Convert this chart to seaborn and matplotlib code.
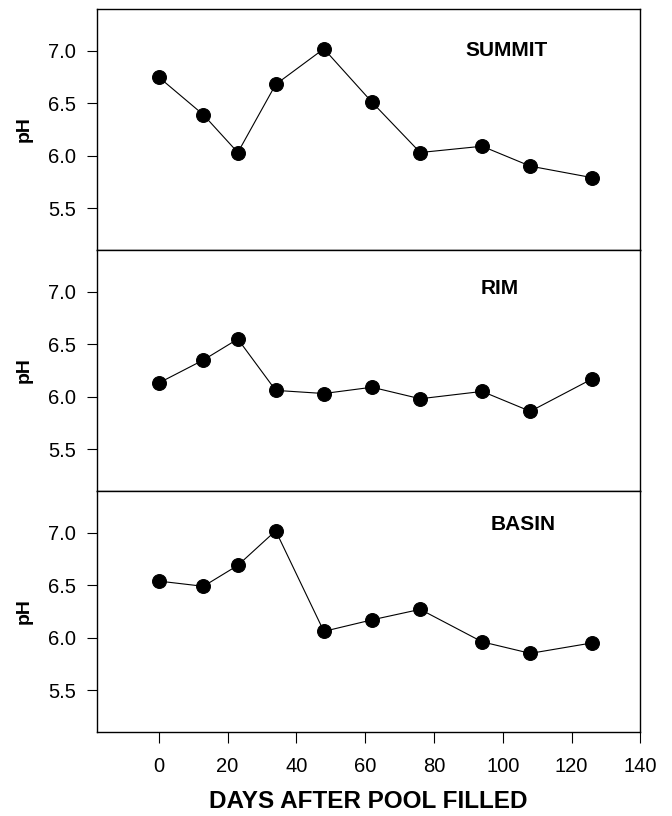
import matplotlib
matplotlib.use('Agg')
import matplotlib.pyplot as plt
import seaborn as sns
import pandas as pd

sns.set_style('ticks')
plt.rcParams['font.family'] = ['Liberation Sans', 'DejaVu Sans']
plt.rcParams['text.color'] = 'black'
plt.rcParams['axes.labelcolor'] = 'black'
plt.rcParams['xtick.color'] = 'black'
plt.rcParams['ytick.color'] = 'black'

# days after the pool was filled (shared by all three sites)
days = [0, 13, 23, 34, 48, 62, 76, 94, 108, 126]

summit_ph = [6.75, 6.39, 6.03, 6.68, 7.02, 6.51, 6.03, 6.09, 5.90, 5.79]
rim_ph = [6.13, 6.35, 6.55, 6.06, 6.03, 6.09, 5.98, 6.05, 5.86, 6.17]
basin_ph = [6.54, 6.49, 6.69, 7.02, 6.06, 6.17, 6.27, 5.96, 5.85, 5.95]

sites = ['SUMMIT', 'RIM', 'BASIN']
site_values = [summit_ph, rim_ph, basin_ph]
label_pos = [(101, 7.0), (99, 7.03), (106, 7.08)]

x_ticks = [0, 20, 40, 60, 80, 100, 120, 140]
y_ticks = [5.5, 6.0, 6.5, 7.0]


def main():
    fig, axes = plt.subplots(3, 1, figsize=(6.72, 8.16), dpi=100, sharex=True)
    fig.subplots_adjust(left=0.144, right=0.953, top=0.989, bottom=0.103,
                        hspace=0)

    for ax, site, vals, pos in zip(axes, sites, site_values, label_pos):
        df = pd.DataFrame({'day': days, 'ph': vals})
        sns.lineplot(data=df, x='day', y='ph', ax=ax, color='black',
                     linewidth=0.8, marker='o', markersize=10,
                     markeredgecolor='black', markerfacecolor='black')
        ax.set_xlim(-18, 140)
        ax.set_ylim(5.1, 7.4)
        ax.set_yticks(y_ticks)
        ax.set_yticklabels(['%.1f' % t for t in y_ticks])
        ax.set_ylabel('pH', fontsize=14, fontweight='bold')
        ax.yaxis.set_label_coords(-0.118, 0.5)
        ax.set_xlabel('')
        ax.text(pos[0], pos[1], site, fontsize=15, fontweight='bold',
                ha='center', va='center')
        for s in ax.spines.values():
            s.set_linewidth(1.0)
            s.set_color('black')
            s.set_visible(True)
        ax.tick_params(axis='y', direction='out', length=7, width=0.8,
                       labelsize=14.5, pad=8, right=False)
        ax.tick_params(axis='x', direction='out', length=8, width=0.8,
                       labelsize=14.5, pad=10, top=False)

    for ax in axes[:-1]:
        ax.tick_params(axis='x', bottom=False, labelbottom=False)

    axes[-1].set_xticks(x_ticks)
    axes[-1].set_xticklabels([str(t) for t in x_ticks])
    axes[-1].set_xlabel('DAYS AFTER POOL FILLED', fontsize=17.5,
                        fontweight='bold', labelpad=10)

    fig.savefig('out.png', dpi=100)


if __name__ == '__main__':
    main()
